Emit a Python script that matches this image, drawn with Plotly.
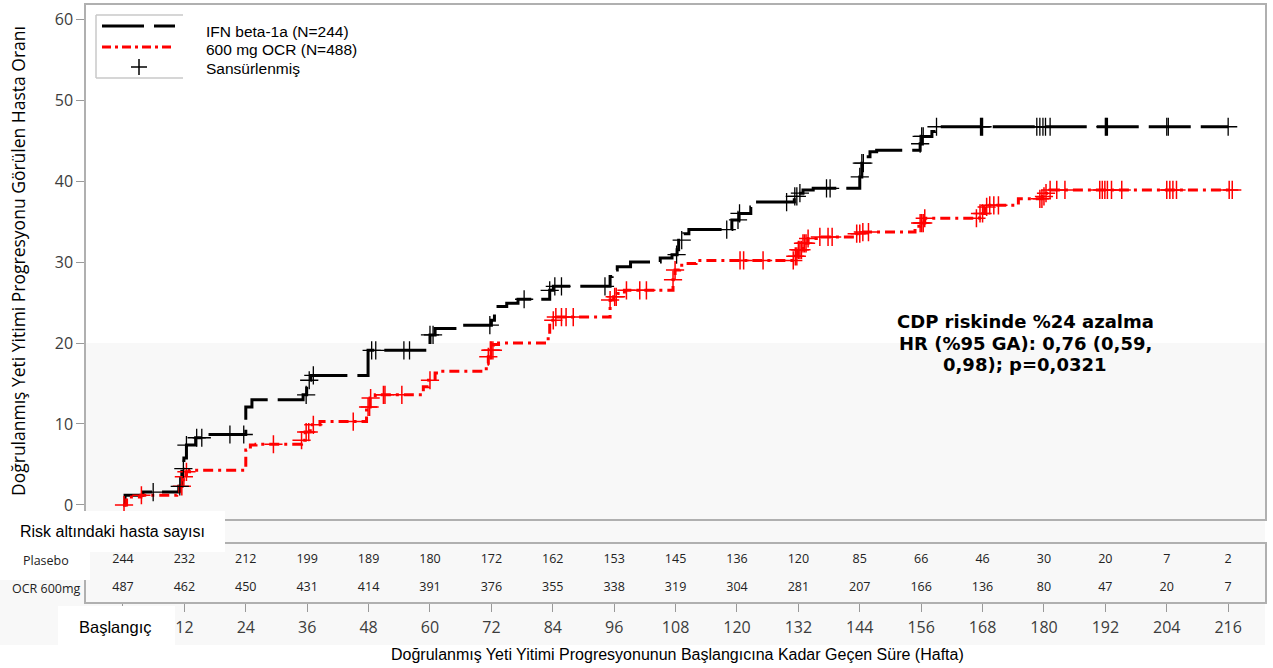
import numpy as np
import plotly.graph_objects as go

# ---------------- DATA ----------------
# Kaplan-Meier step points (week, % with confirmed disability progression)
ifn_t = [0, 0.4, 3.9, 10.9, 11.5, 11.9, 12.4, 14.2, 15.6, 24.0, 25.2, 35.2, 35.9, 36.7, 47.9,
         60.0, 61.0, 65.9, 72.0, 72.6, 73.3, 75.0, 77.2, 83.4, 84.1, 95.2, 95.6, 96.6, 99.2,
         105.0, 107.3, 108.3, 108.6, 109.6, 110.6, 119.0, 120.4, 122.7, 123.4, 131.2, 131.9,
         132.9, 134.9, 144.0, 144.4, 145.0, 146.0, 147.3, 155.8, 156.1, 158.1, 158.8, 216.0]
ifn_y = [0, 1.2, 1.6, 2.3, 4.5, 5.8, 7.4, 8.3, 8.7, 12.1, 13.0, 13.6, 15.4, 16.0, 19.1,
         21.0, 21.8, 22.2, 22.8, 24.1, 24.5, 24.9, 25.4, 26.5, 27.0, 28.2, 29.0, 29.4, 30.0,
         30.5, 30.9, 31.5, 32.7, 33.5, 34.0, 35.2, 36.0, 36.8, 37.4, 38.1, 38.5,
         38.9, 39.1, 40.5, 42.2, 43.0, 43.6, 43.8, 44.6, 45.5, 46.1, 46.7, 46.7]

ocr_t = [0, 0.7, 1.0, 3.5, 10.5, 11.1, 11.8, 12.4, 13.0, 24.0, 24.9, 26.0, 34.9, 35.6, 36.6,
         38.5, 47.6, 48.3, 49.3, 58.7, 59.7, 61.0, 62.5, 71.0, 71.4, 71.7, 72.4, 73.4, 83.1,
         83.4, 84.6, 95.2, 95.9, 96.6, 98.0, 107.5, 107.9, 108.8, 109.8, 112.0, 131.3, 131.9,
         132.9, 133.9, 135.5, 143.4, 144.4, 154.8, 155.8, 156.7, 167.4, 168.4, 168.9, 175.0,
         179.7, 180.4, 181.2, 216.8]
ocr_y = [0, 0.8, 1.0, 1.2, 1.4, 2.3, 3.5, 4.1, 4.3, 6.8, 7.4, 7.5, 8.0, 9.0, 9.9,
         10.3, 12.1, 13.2, 13.6, 14.6, 15.4, 16.3, 16.5, 17.5, 18.3, 19.1, 19.8, 20.0, 21.0,
         22.8, 23.2, 25.3, 25.7, 26.1, 26.5, 27.8, 29.0, 29.6, 29.8, 30.2, 30.7, 31.5,
         32.3, 32.9, 33.1, 33.5, 33.7, 34.4, 34.8, 35.4, 36.0, 36.8, 37.0, 37.8,
         38.1, 38.5, 38.9, 38.9]

# censoring times (weeks)
ifn_cens = [5.9, 11.1, 11.8, 12.4, 14.4, 15.4, 20.9, 23.6, 35.8, 36.4, 37.2, 48.6, 49.4, 54.9,
            56.0, 60.0, 60.6, 71.7, 78.4, 83.4, 84.4, 85.7, 94.2, 108.2, 109.2, 118.0, 120.2,
            120.5, 129.7, 131.3, 131.7, 132.3, 137.5, 138.2, 144.0, 144.4, 144.7, 155.8, 156.1,
            156.4, 159.0, 167.6, 167.8, 168.0, 178.6, 179.2, 179.8, 180.3, 181.2, 192.0, 192.2,
            192.4, 204.0, 204.3, 216.0]
ocr_cens = [0.2, 3.6, 11.5, 11.9, 12.4, 29.4, 34.9, 35.8, 36.3, 37.2, 45.0, 47.9, 48.2, 48.4,
            50.9, 51.2, 54.5, 60.0, 71.4, 71.8, 72.0, 72.3, 84.1, 84.6, 85.7, 86.6, 88.0, 95.2,
            96.1, 96.4, 98.4, 101.0, 102.3, 107.5, 107.9, 120.6, 121.3, 125.1, 131.0, 131.4,
            131.7, 132.0, 132.3, 132.6, 132.9, 133.2, 133.5, 133.9, 136.2, 137.8, 138.6, 143.4,
            144.0, 144.6, 145.7, 155.8, 156.1, 156.4, 156.7, 166.8, 167.5, 168.0, 168.8, 169.4,
            170.2, 171.1, 179.2, 179.6, 180.0, 180.4, 181.2, 182.5, 184.1, 190.9, 191.4, 191.9,
            192.4, 193.2, 195.2, 204.0, 204.6, 205.2, 205.9, 216.2, 216.8]

# numbers at risk
risk_weeks = [0, 12, 24, 36, 48, 60, 72, 84, 96, 108, 120, 132, 144, 156, 168, 180, 192, 204, 216]
risk_ifn = [244, 232, 212, 199, 189, 180, 172, 162, 153, 145, 136, 120, 85, 66, 46, 30, 20, 7, 2]
risk_ocr = [487, 462, 450, 431, 414, 391, 376, 355, 338, 319, 304, 281, 207, 166, 136, 80, 47, 20, 7]
risk_rows = ["Plasebo", "OCR 600mg"]

y_ticks = [0, 10, 20, 30, 40, 50, 60]
legend_labels = ["IFN beta-1a (N=244)", "600 mg OCR (N=488)", "Sansürlenmiş"]
y_title = "Doğrulanmış Yeti Yitimi Progresyonu Görülen Hasta Oranı"
x_title = "Doğrulanmış Yeti Yitimi Progresyonunun Başlangıcına Kadar Geçen Süre (Hafta)"
baseline_label = "Başlangıç"
risk_title = "Risk altındaki hasta sayısı"
hr_lines = ["CDP riskinde %24 azalma", "HR (%95 GA): 0,76 (0,59,", "0,98); p=0,0321"]


def km_at(ts, ys, q):
    ts = np.asarray(ts); ys = np.asarray(ys)
    idx = np.searchsorted(ts, np.asarray(q), side="right") - 1
    return ys[np.clip(idx, 0, len(ys) - 1)]


# ---------------- LAYOUT HELPERS (pixel -> paper) ----------------
W, H = 1273, 668
L, R, T, B = 86, 8, 5, 66
def xp(px):
    return (px - L) / (W - L - R)
def yp(py):
    return (H - B - py) / (H - T - B)

XR = [-7.23, 223.2]

fig = go.Figure()

# step lines
fig.add_trace(go.Scatter(x=ifn_t, y=ifn_y, mode="lines", line_shape="hv",
                         line=dict(color="black", width=3, dash="42px,10px"),
                         showlegend=False, hoverinfo="skip"))
fig.add_trace(go.Scatter(x=ocr_t, y=ocr_y, mode="lines", line_shape="hv",
                         line=dict(color="#ff0000", width=3, dash="10px,5px,3px,5px"),
                         showlegend=False, hoverinfo="skip"))
# censor marks
fig.add_trace(go.Scatter(x=ocr_cens, y=km_at(ocr_t, ocr_y, ocr_cens), mode="markers",
                         marker=dict(symbol="cross-thin", size=13,
                                     line=dict(color="#ff0000", width=1.5)),
                         showlegend=False, hoverinfo="skip"))
fig.add_trace(go.Scatter(x=ifn_cens, y=km_at(ifn_t, ifn_y, ifn_cens), mode="markers",
                         marker=dict(symbol="cross-thin", size=13,
                                     line=dict(color="black", width=1.3)),
                         showlegend=False, hoverinfo="skip"))

# risk table as text on a second subplot
fig.add_trace(go.Scatter(x=risk_weeks, y=[0.72] * len(risk_weeks), text=[str(v) for v in risk_ifn],
                         mode="text", textfont=dict(family="Open Sans", size=12.5, color="#222"),
                         xaxis="x2", yaxis="y2", showlegend=False, hoverinfo="skip"))
fig.add_trace(go.Scatter(x=risk_weeks, y=[0.24] * len(risk_weeks), text=[str(v) for v in risk_ocr],
                         mode="text", textfont=dict(family="Open Sans", size=12.5, color="#222"),
                         xaxis="x2", yaxis="y2", showlegend=False, hoverinfo="skip"))

shapes = []
# gray background bands
shapes.append(dict(type="rect", xref="paper", yref="paper", x0=xp(0), x1=xp(1265),
                   y0=yp(645), y1=yp(519), fillcolor="#f8f8f8", line=dict(width=0), layer="below"))
shapes.append(dict(type="rect", xref="x", yref="y", x0=XR[0], x1=XR[1], y0=-1.73, y1=20,
                   fillcolor="#f8f8f8", line=dict(width=0), layer="below"))
# white patches
for (a, b, c, d) in [(0, 511, 225, 552), (0, 552, 90, 580), (58, 606, 175, 645)]:
    shapes.append(dict(type="rect", xref="paper", yref="paper", x0=xp(a), x1=xp(c),
                       y0=yp(d), y1=yp(b), fillcolor="white", line=dict(width=0), layer="above"))
# legend frame (open on the right)
for (a, b, c, d) in [(96, 15, 183, 15), (96, 15, 96, 78), (96, 78, 183, 78)]:
    shapes.append(dict(type="line", xref="paper", yref="paper", x0=xp(a), x1=xp(c),
                       y0=yp(b), y1=yp(d), line=dict(color="#c8c8c8", width=1.5), layer="above"))
# legend samples
shapes.append(dict(type="line", xref="paper", yref="paper", x0=xp(102), x1=xp(175), y0=yp(26), y1=yp(26),
                   line=dict(color="black", width=3, dash="42px,10px"), layer="above"))
shapes.append(dict(type="line", xref="paper", yref="paper", x0=xp(102), x1=xp(172), y0=yp(47), y1=yp(47),
                   line=dict(color="#ff0000", width=3, dash="9px,4px,3px,4px"), layer="above"))
shapes.append(dict(type="line", xref="paper", yref="paper", x0=xp(131), x1=xp(147), y0=yp(67), y1=yp(67),
                   line=dict(color="black", width=1.5), layer="above"))
shapes.append(dict(type="line", xref="paper", yref="paper", x0=xp(139), x1=xp(139), y0=yp(59), y1=yp(75),
                   line=dict(color="black", width=1.5), layer="above"))

ann = []
for txt, py in zip(legend_labels, [32, 50, 68]):
    ann.append(dict(text=txt, xref="paper", yref="paper", x=xp(204), y=yp(py), xanchor="left",
                    yanchor="middle", showarrow=False,
                    font=dict(family="Liberation Sans", size=15.5, color="black")))
for txt, py in zip(hr_lines, [321, 343, 364]):
    ann.append(dict(text=txt, xref="paper", yref="paper", x=xp(1025), y=yp(py), xanchor="center",
                    yanchor="middle", showarrow=False, align="center",
                    font=dict(family="DejaVu Sans", size=18, color="black", weight="bold")))
ann.append(dict(text=y_title, xref="paper", yref="paper", x=xp(18), y=yp(261), textangle=-90,
                xanchor="center", yanchor="middle", showarrow=False,
                font=dict(family="Open Sans", size=17.5, color="black")))
ann.append(dict(text=x_title, xref="paper", yref="paper", x=xp(677), y=yp(655), xanchor="center",
                yanchor="middle", showarrow=False,
                font=dict(family="Liberation Sans", size=16, color="black")))
ann.append(dict(text=baseline_label, xref="paper", yref="paper", x=xp(115), y=yp(627), xanchor="center",
                yanchor="middle", showarrow=False,
                font=dict(family="Liberation Sans", size=16.5, color="black")))
ann.append(dict(text=risk_title, xref="paper", yref="paper", x=xp(18), y=yp(531), xanchor="left",
                yanchor="middle", showarrow=False,
                font=dict(family="Liberation Sans", size=16, color="black")))
for txt, py in zip(risk_rows, [560, 588]):
    ann.append(dict(text=txt, xref="paper", yref="paper", x=xp(46), y=yp(py), xanchor="center",
                    yanchor="middle", showarrow=False,
                    font=dict(family="Open Sans", size=12.5, color="#222")))

frame = "#b0b0b0"
fig.update_layout(
    width=W, height=H,
    margin=dict(l=L, r=R, t=T, b=B, autoexpand=False),
    paper_bgcolor="white", plot_bgcolor="rgba(0,0,0,0)",
    showlegend=False,
    xaxis=dict(domain=[0, 1], range=XR, anchor="y", showticklabels=False, ticks="",
               automargin=False,
               showgrid=False, zeroline=False, showline=True, mirror=True,
               linecolor=frame, linewidth=1.5),
    yaxis=dict(domain=[yp(519), yp(5)], range=[-1.73, 61.73], anchor="x", tickvals=y_ticks,
               automargin=False,
               ticks="outside", ticklen=8, tickcolor="#999", tickwidth=1.2,
               tickfont=dict(family="Open Sans", size=16, color="#3c3c3c"),
               showgrid=False, zeroline=False, showline=True, mirror=True,
               linecolor=frame, linewidth=1.5),
    xaxis2=dict(domain=[0, 1], range=XR, anchor="y2", tickvals=risk_weeks,
                automargin=False,
                ticktext=[""] + [str(w) for w in risk_weeks[1:]],
                ticks="outside", ticklen=8, tickcolor="#999", tickwidth=1.2,
                ticklabelstandoff=2,
                tickfont=dict(family="Open Sans", size=16, color="#3c3c3c"),
                showgrid=False, zeroline=False, showline=True, mirror=True,
                linecolor=frame, linewidth=1.5),
    yaxis2=dict(domain=[0, yp(544)], range=[0, 1], anchor="x2", showticklabels=False,
                automargin=False,
                ticks="", showgrid=False, zeroline=False, showline=True, mirror=True,
                linecolor=frame, linewidth=1.5),
    shapes=shapes, annotations=ann,
)

fig.write_html("out.html", config={"displayModeBar": False},
               post_script="document.body.style.margin='0px';document.body.style.padding='0px';")
